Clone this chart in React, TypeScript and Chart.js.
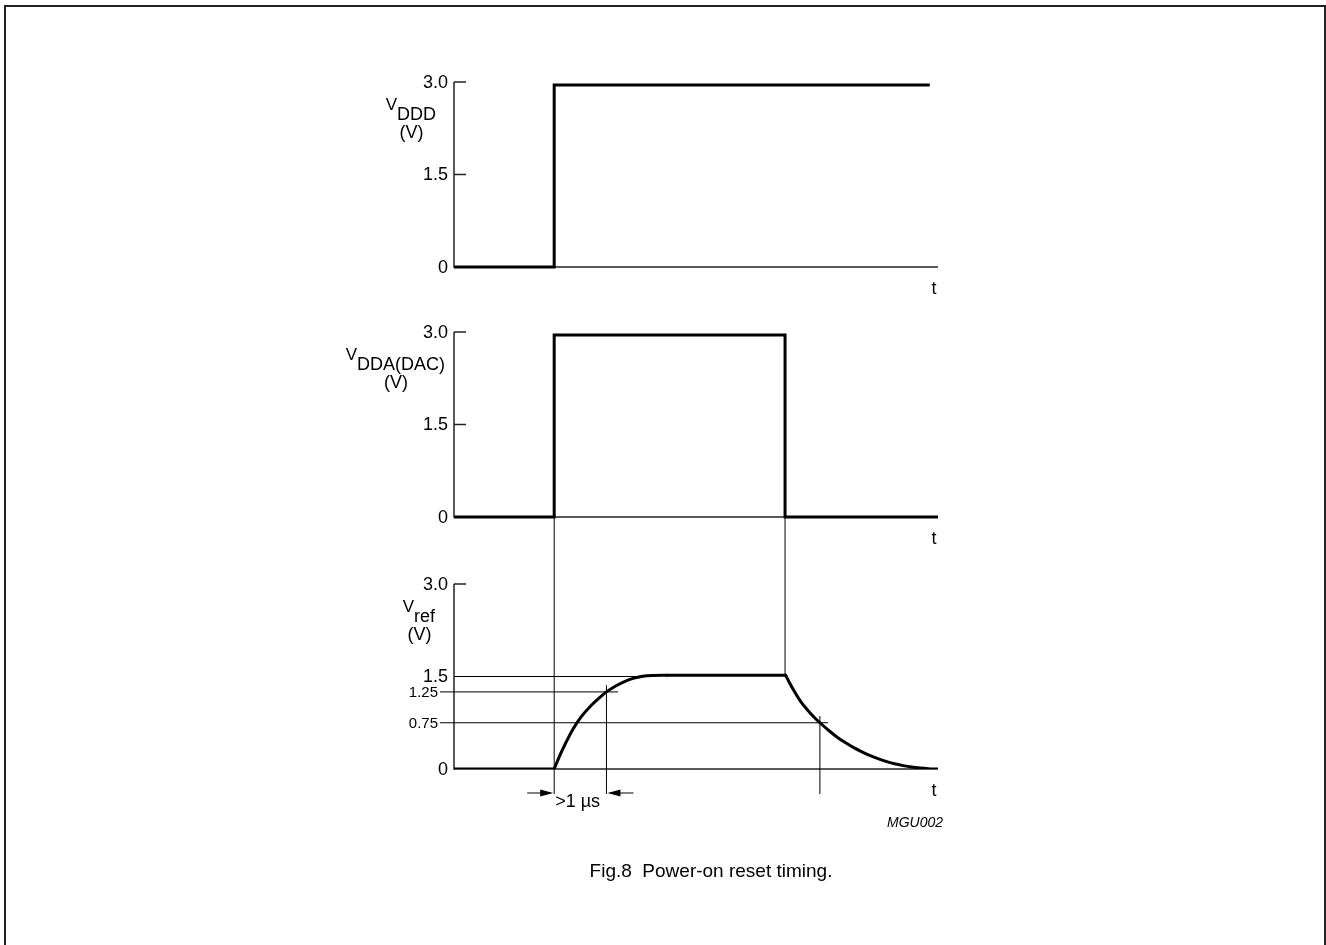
import { useEffect, useRef } from "react";
import { Chart, registerables } from "chart.js";
Chart.register(...registerables);

// ---------- data ----------
const timeRange = [0, 10];
const voltTicks = [3.0, 1.5, 0];
const voltTickLabels = ["3.0", "1.5", "0"];
const refLevels = [1.25, 0.75];
const refLevelLabels = ["1.25", "0.75"];

const vdddTime = [0, 2.07, 2.07, 9.83];
const vdddVolt = [0, 0, 2.95, 2.95];

const vddaTime = [0, 2.07, 2.07, 6.84, 6.84, 10];
const vddaVolt = [0, 0, 2.95, 2.95, 0, 0];

const vrefLowTime = [0, 2.07];
const vrefLowVolt = [0, 0];
const vrefRiseTime = [2.07, 2.17, 2.3, 2.46, 2.63, 2.81, 3.0, 3.15, 3.35, 3.5, 3.7, 3.9, 4.1, 4.4];
const vrefRiseVolt = [0, 0.19, 0.41, 0.65, 0.85, 1.01, 1.15, 1.25, 1.35, 1.41, 1.47, 1.505, 1.518, 1.522];
const vrefHoldTime = [4.4, 6.85];
const vrefHoldVolt = [1.522, 1.522];
const vrefDecayTime = [6.85, 7.0, 7.15, 7.3, 7.45, 7.56, 7.75, 7.91, 8.1, 8.25, 8.45, 8.6, 8.8, 8.94, 9.1, 9.28, 9.45, 9.63, 9.8, 10];
const vrefDecayVolt = [1.522, 1.3, 1.11, 0.96, 0.83, 0.75, 0.62, 0.52, 0.42, 0.35, 0.27, 0.215, 0.155, 0.12, 0.085, 0.055, 0.032, 0.016, 0.006, 0.0];

const tRise = 2.07;
const t125 = 3.15;
const tFall = 6.84;
const t075 = 7.56;

const panelNames = ["DDD", "DDA(DAC)", "ref"];
const unitLabel = "(V)";
const timeLabel = "t";
const delayLabel = ">1 \u00b5s";
const figCode = "MGU002";
const caption = "Fig.8  Power-on reset timing.";

// ---------- layout (pixels) ----------
const W = 1326;
const H = 945;
const AREA_LEFT = 454;
const AREA_RIGHT = 938;
const PANEL_TOP = [82, 332, 584];
const PANEL_ZERO = [267, 517, 769];
const AREA_TOP = PANEL_TOP[0];
const AREA_BOTTOM = PANEL_ZERO[2];
const LABEL_RIGHT = [436, 445, 435];
const FONT = "'Liberation Sans', Arial, Helvetica, sans-serif";

function yRange(i: number) {
  const ppv = (PANEL_ZERO[i] - PANEL_TOP[i]) / 3;
  return {
    min: -(AREA_BOTTOM - PANEL_ZERO[i]) / ppv,
    max: 3 + (PANEL_TOP[i] - AREA_TOP) / ppv,
  };
}

const toXY = (t: number[], v: number[]) => t.map((x, i) => ({ x, y: v[i] }));

function line(ctx: CanvasRenderingContext2D, x1: number, y1: number, x2: number, y2: number, w: number, color = "#000") {
  ctx.save();
  ctx.strokeStyle = color;
  ctx.lineWidth = w;
  ctx.beginPath();
  ctx.moveTo(x1, y1);
  ctx.lineTo(x2, y2);
  ctx.stroke();
  ctx.restore();
}

function arrowHead(ctx: CanvasRenderingContext2D, tipX: number, y: number, dir: number) {
  ctx.save();
  ctx.fillStyle = "#000";
  ctx.beginPath();
  ctx.moveTo(tipX, y);
  ctx.lineTo(tipX - dir * 13, y - 3.5);
  ctx.lineTo(tipX - dir * 13, y + 3.5);
  ctx.closePath();
  ctx.fill();
  ctx.restore();
}

const figurePlugin = {
  id: "figure",
  beforeDatasetsDraw(chart: any) {
    const ctx: CanvasRenderingContext2D = chart.ctx;
    const xs = chart.scales.x;
    const ys = [chart.scales.y1, chart.scales.y2, chart.scales.y3];
    const x0 = xs.getPixelForValue(timeRange[0]);
    const x1 = xs.getPixelForValue(timeRange[1]);

    // frame
    ctx.save();
    ctx.strokeStyle = "#222";
    ctx.lineWidth = 2;
    ctx.strokeRect(5, 6, 1320, 1000);
    ctx.restore();

    ys.forEach((ys_: any, i: number) => {
      const yTop = ys_.getPixelForValue(3);
      const yZero = ys_.getPixelForValue(0);
      // axes
      line(ctx, x0, yTop, x0, yZero + 0.75, 1.5, "#222");
      line(ctx, x0, yZero, x1, yZero, 1.5, "#222");
      // ticks
      line(ctx, x0, yTop, x0 + 12, yTop, 1.5, "#222");
      if (i < 2) line(ctx, x0, ys_.getPixelForValue(1.5), x0 + 12, ys_.getPixelForValue(1.5), 1.5, "#222");
    });

    const y2 = ys[1];
    const y3 = ys[2];
    const below = y3.getPixelForValue(0) + 25;
    // reference lines in lower panel
    line(ctx, x0, y3.getPixelForValue(1.5), xs.getPixelForValue(3.84), y3.getPixelForValue(1.5), 1);
    line(ctx, x0 - 14, y3.getPixelForValue(refLevels[0]), xs.getPixelForValue(3.39), y3.getPixelForValue(refLevels[0]), 1);
    line(ctx, x0 - 14, y3.getPixelForValue(refLevels[1]), xs.getPixelForValue(7.73), y3.getPixelForValue(refLevels[1]), 1);
    // vertical markers
    line(ctx, xs.getPixelForValue(tRise), y2.getPixelForValue(0), xs.getPixelForValue(tRise), below, 1);
    line(ctx, xs.getPixelForValue(tFall), y2.getPixelForValue(0), xs.getPixelForValue(tFall), y3.getPixelForValue(1.52), 1);
    line(ctx, xs.getPixelForValue(t125), y3.getPixelForValue(1.36), xs.getPixelForValue(t125), below, 1);
    line(ctx, xs.getPixelForValue(t075), y3.getPixelForValue(0.86), xs.getPixelForValue(t075), below, 1);
  },
  afterDatasetsDraw(chart: any) {
    const ctx: CanvasRenderingContext2D = chart.ctx;
    const xs = chart.scales.x;
    const ys = [chart.scales.y1, chart.scales.y2, chart.scales.y3];
    const x0 = xs.getPixelForValue(timeRange[0]);
    ctx.save();
    ctx.fillStyle = "#000";
    ys.forEach((s: any, i: number) => {
      ctx.font = `18px ${FONT}`;
      ctx.textAlign = "right";
      ctx.textBaseline = "middle";
      voltTicks.forEach((v, k) => {
        ctx.fillText(voltTickLabels[k], x0 - 6, s.getPixelForValue(v) + 1);
      });
      // panel label
      const yTop = s.getPixelForValue(3);
      ctx.textBaseline = "alphabetic";
      ctx.textAlign = "right";
      const subRight = LABEL_RIGHT[i];
      ctx.font = `18px ${FONT}`;
      const subW = ctx.measureText(panelNames[i]).width;
      ctx.fillText(panelNames[i], subRight, yTop + 38);
      ctx.font = `17px ${FONT}`;
      ctx.fillText("V", subRight - subW, yTop + 28);
      ctx.font = `18px ${FONT}`;
      ctx.textAlign = "center";
      ctx.fillText(unitLabel, subRight - subW / 2 - 5, yTop + 56);
      // t label
      ctx.fillText(timeLabel, 934, s.getPixelForValue(0) + 27);
    });
    const y3 = ys[2];
    ctx.font = `15px ${FONT}`;
    ctx.textAlign = "right";
    ctx.textBaseline = "middle";
    refLevels.forEach((v, k) => ctx.fillText(refLevelLabels[k], x0 - 16, y3.getPixelForValue(v) + 1));

    // delay arrows
    const ay = y3.getPixelForValue(0) + 24;
    const xr = xs.getPixelForValue(tRise);
    const x125 = xs.getPixelForValue(t125);
    line(ctx, xr - 27, ay, xr - 4, ay, 1);
    arrowHead(ctx, xr - 1, ay, 1);
    line(ctx, x125 + 27, ay, x125 + 4, ay, 1);
    arrowHead(ctx, x125 + 1, ay, -1);
    ctx.font = `18px ${FONT}`;
    ctx.textAlign = "left";
    ctx.textBaseline = "alphabetic";
    ctx.fillText(delayLabel, xr + 1, ay + 14);

    ctx.font = `italic 14px ${FONT}`;
    ctx.textAlign = "right";
    ctx.fillText(figCode, 943, 827);

    ctx.font = `19px ${FONT}`;
    ctx.textAlign = "center";
    ctx.fillText(caption, 711, 877);
    ctx.restore();
  },
};

export default function App() {
  const ref = useRef<HTMLCanvasElement | null>(null);
  useEffect(() => {
    if (!ref.current) return;
    const common = {
      borderColor: "#000",
      borderWidth: 3,
      pointRadius: 0,
      fill: false,
    };
    const chart = new Chart(ref.current, {
      type: "line",
      data: {
        datasets: [
          { ...common, label: "VDDD", data: toXY(vdddTime, vdddVolt), yAxisID: "y1", tension: 0 },
          { ...common, label: "VDDA(DAC)", data: toXY(vddaTime, vddaVolt), yAxisID: "y2", tension: 0 },
          { ...common, label: "Vref low", data: toXY(vrefLowTime, vrefLowVolt), yAxisID: "y3", tension: 0, borderCapStyle: "round" },
          { ...common, label: "Vref rise", data: toXY(vrefRiseTime, vrefRiseVolt), yAxisID: "y3", cubicInterpolationMode: "monotone", borderCapStyle: "round", borderJoinStyle: "round" },
          { ...common, label: "Vref hold", data: toXY(vrefHoldTime, vrefHoldVolt), yAxisID: "y3", tension: 0, borderCapStyle: "round" },
          { ...common, label: "Vref decay", data: toXY(vrefDecayTime, vrefDecayVolt), yAxisID: "y3", cubicInterpolationMode: "monotone", borderCapStyle: "round", borderJoinStyle: "round" },
        ] as any,
      },
      options: {
        animation: false,
        responsive: false,
        devicePixelRatio: 1,
        events: [],
        layout: {
          autoPadding: false,
          padding: { left: AREA_LEFT, right: W - AREA_RIGHT, top: AREA_TOP, bottom: H - AREA_BOTTOM },
        },
        plugins: { legend: { display: false }, tooltip: { enabled: false }, title: { display: false } },
        scales: {
          x: { type: "linear", min: timeRange[0], max: timeRange[1], display: false },
          y1: { type: "linear", ...yRange(0), display: false },
          y2: { type: "linear", ...yRange(1), display: false },
          y3: { type: "linear", ...yRange(2), display: false },
        },
      } as any,
      plugins: [figurePlugin],
    });
    return () => chart.destroy();
  }, []);
  return (
    <div style={{ position: "absolute", left: 0, top: 0, width: W, height: H, background: "#fff" }}>
      <canvas ref={ref} width={W} height={H} style={{ width: W, height: H, display: "block" }} />
    </div>
  );
}
